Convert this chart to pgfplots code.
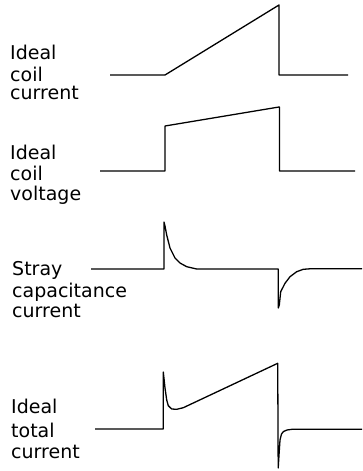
\documentclass[border=0pt]{standalone}
\usepackage{fontspec}
\setmainfont{DejaVu Sans}
\usepackage{pgfplots}
\pgfplotsset{compat=1.18}
\tikzset{wave/.style={black, solid, line width=1.3pt, line join=round, mark=none}}

\begin{document}
\begin{tikzpicture}
\useasboundingbox (0,0) rectangle (362pt,471pt);
\begin{axis}[
  at={(0,0)}, anchor=south west,
  scale only axis, width=362pt, height=471pt,
  xmin=0, xmax=362, ymin=0, ymax=471,
  y dir=reverse,
  hide axis, clip=false,
]
% ideal coil current
\addplot[wave] coordinates {(110,75) (165,75) (279,5) (279,75) (348,75)};
% ideal coil voltage
\addplot[wave] coordinates {(100,171) (165,171) (165,126) (279,107) (279.5,107) (279.5,171) (355,171)};
% stray capacitance current
\addplot[wave] coordinates {(91,269) (164,269) (164,222) (165,226) (166.7,235) (170,248)
  (175,258) (180,263) (186.7,266.7) (196.7,269) (278.3,269) (278.3,308) (279.3,305)
  (280.7,291.7) (285,283.3) (290,276.7) (296.7,271.7) (303.3,269.3) (310,268.8) (362,268.8)};
% ideal total current
\addplot[wave] coordinates {(95,429) (163.3,429) (163.3,372) (165,388) (166.7,400) (168.3,405.7)
  (171.7,409) (176.7,409.3) (183.3,407.7) (277.7,363.3) (278.2,468) (279,455) (280,440)
  (281.5,434) (283.5,431.5) (287,430) (292,429.3) (362,429.3)};

\begin{scope}[every node/.style={anchor=base west, inner sep=0pt, font=\fontsize{19}{22}\selectfont}]
\node at (axis cs:10,59) {Ideal};
\node at (axis cs:10,81) {coil};
\node at (axis cs:10,99) {current};
\node at (axis cs:10,159) {Ideal};
\node at (axis cs:10,180) {coil};
\node at (axis cs:10,200) {voltage};
\node at (axis cs:12,275) {Stray};
\node at (axis cs:12,297) {capacitance};
\node at (axis cs:12,317) {current};
\node at (axis cs:11,413) {Ideal};
\node at (axis cs:11,437) {total};
\node at (axis cs:11,458) {current};
\end{scope}
\end{axis}
\end{tikzpicture}
\end{document}
